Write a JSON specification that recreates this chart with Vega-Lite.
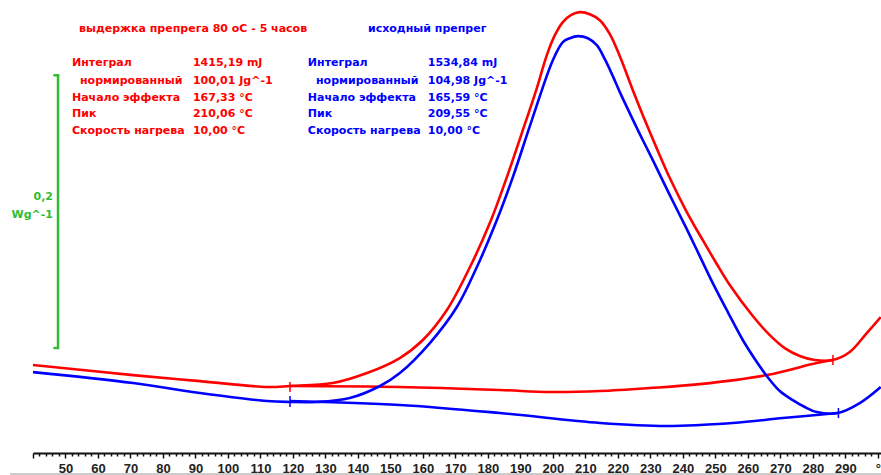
{
  "$schema": "https://vega.github.io/schema/vega-lite/v6.json",
  "width": 848,
  "height": 453,
  "autosize": {"type": "none"},
  "padding": {"left": 33, "top": 0, "right": 0, "bottom": 22},
  "background": "white",
  "config": {"view": {"stroke": null}, "axis": {"grid": false}},
  "datasets": {
    "curves": [
      {"s":"annealed","k":"curve","t":40.0,"v":0.0645},
      {"s":"annealed","k":"curve","t":70.8,"v":0.0571},
      {"s":"annealed","k":"curve","t":91.4,"v":0.0527},
      {"s":"annealed","k":"curve","t":112.0,"v":0.0484},
      {"s":"annealed","k":"curve","t":119.1,"v":0.0491},
      {"s":"annealed","k":"curve","t":132.3,"v":0.0513},
      {"s":"annealed","k":"curve","t":142.8,"v":0.0586},
      {"s":"annealed","k":"curve","t":152.9,"v":0.0696},
      {"s":"annealed","k":"curve","t":160.0,"v":0.0828},
      {"s":"annealed","k":"curve","t":167.4,"v":0.1048},
      {"s":"annealed","k":"curve","t":174.5,"v":0.1363},
      {"s":"annealed","k":"curve","t":180.6,"v":0.1685},
      {"s":"annealed","k":"curve","t":185.85,"v":0.2022},
      {"s":"annealed","k":"curve","t":191.38,"v":0.2410},
      {"s":"annealed","k":"curve","t":195.08,"v":0.2674},
      {"s":"annealed","k":"curve","t":198.15,"v":0.2916},
      {"s":"annealed","k":"curve","t":200.62,"v":0.3062},
      {"s":"annealed","k":"curve","t":203.08,"v":0.3158},
      {"s":"annealed","k":"curve","t":205.54,"v":0.3209},
      {"s":"annealed","k":"curve","t":208.31,"v":0.3231},
      {"s":"annealed","k":"curve","t":211.38,"v":0.3216},
      {"s":"annealed","k":"curve","t":214.46,"v":0.3172},
      {"s":"annealed","k":"curve","t":217.54,"v":0.3070},
      {"s":"annealed","k":"curve","t":220.62,"v":0.2908},
      {"s":"annealed","k":"curve","t":224.62,"v":0.2659},
      {"s":"annealed","k":"curve","t":227.69,"v":0.2476},
      {"s":"annealed","k":"curve","t":231.69,"v":0.2249},
      {"s":"annealed","k":"curve","t":236.0,"v":0.2015},
      {"s":"annealed","k":"curve","t":241.23,"v":0.1766},
      {"s":"annealed","k":"curve","t":246.15,"v":0.1560},
      {"s":"annealed","k":"curve","t":250.46,"v":0.1385},
      {"s":"annealed","k":"curve","t":254.46,"v":0.1231},
      {"s":"annealed","k":"curve","t":261.54,"v":0.1004},
      {"s":"annealed","k":"curve","t":266.77,"v":0.0864},
      {"s":"annealed","k":"curve","t":271.38,"v":0.0769},
      {"s":"annealed","k":"curve","t":276.0,"v":0.0711},
      {"s":"annealed","k":"curve","t":280.62,"v":0.0681},
      {"s":"annealed","k":"curve","t":286.15,"v":0.0681},
      {"s":"annealed","k":"curve","t":291.38,"v":0.0740},
      {"s":"annealed","k":"curve","t":296.62,"v":0.0879},
      {"s":"annealed","k":"curve","t":300.92,"v":0.0996},
      {"s":"annealed","k":"base","t":119.1,"v":0.0491},
      {"s":"annealed","k":"base","t":152.9,"v":0.0484},
      {"s":"annealed","k":"base","t":183.7,"v":0.0462},
      {"s":"annealed","k":"base","t":199.1,"v":0.0447},
      {"s":"annealed","k":"base","t":214.5,"v":0.0454},
      {"s":"annealed","k":"base","t":229.8,"v":0.0476},
      {"s":"annealed","k":"base","t":245.2,"v":0.0505},
      {"s":"annealed","k":"base","t":265.8,"v":0.0571},
      {"s":"annealed","k":"base","t":281.2,"v":0.0659},
      {"s":"annealed","k":"base","t":286.2,"v":0.0681},
      {"s":"initial","k":"curve","t":40.0,"v":0.0593},
      {"s":"initial","k":"curve","t":70.8,"v":0.0513},
      {"s":"initial","k":"curve","t":91.4,"v":0.0440},
      {"s":"initial","k":"curve","t":112.0,"v":0.0381},
      {"s":"initial","k":"curve","t":119.1,"v":0.0374},
      {"s":"initial","k":"curve","t":127.4,"v":0.0374},
      {"s":"initial","k":"curve","t":137.5,"v":0.0403},
      {"s":"initial","k":"curve","t":146.8,"v":0.0491},
      {"s":"initial","k":"curve","t":152.92,"v":0.0586},
      {"s":"initial","k":"curve","t":162.15,"v":0.0806},
      {"s":"initial","k":"curve","t":170.46,"v":0.1070},
      {"s":"initial","k":"curve","t":176.62,"v":0.1363},
      {"s":"initial","k":"curve","t":182.77,"v":0.1707},
      {"s":"initial","k":"curve","t":187.69,"v":0.2022},
      {"s":"initial","k":"curve","t":193.54,"v":0.2440},
      {"s":"initial","k":"curve","t":200.0,"v":0.2879},
      {"s":"initial","k":"curve","t":203.08,"v":0.3011},
      {"s":"initial","k":"curve","t":205.23,"v":0.3040},
      {"s":"initial","k":"curve","t":207.69,"v":0.3055},
      {"s":"initial","k":"curve","t":210.77,"v":0.3040},
      {"s":"initial","k":"curve","t":213.54,"v":0.2989},
      {"s":"initial","k":"curve","t":216.0,"v":0.2886},
      {"s":"initial","k":"curve","t":218.46,"v":0.2762},
      {"s":"initial","k":"curve","t":220.62,"v":0.2645},
      {"s":"initial","k":"curve","t":223.08,"v":0.2520},
      {"s":"initial","k":"curve","t":226.77,"v":0.2337},
      {"s":"initial","k":"curve","t":230.77,"v":0.2147},
      {"s":"initial","k":"curve","t":236.0,"v":0.1890},
      {"s":"initial","k":"curve","t":241.23,"v":0.1641},
      {"s":"initial","k":"curve","t":245.23,"v":0.1443},
      {"s":"initial","k":"curve","t":249.23,"v":0.1245},
      {"s":"initial","k":"curve","t":253.85,"v":0.1033},
      {"s":"initial","k":"curve","t":258.46,"v":0.0828},
      {"s":"initial","k":"curve","t":262.15,"v":0.0689},
      {"s":"initial","k":"curve","t":265.85,"v":0.0564},
      {"s":"initial","k":"curve","t":269.85,"v":0.0454},
      {"s":"initial","k":"curve","t":273.85,"v":0.0388},
      {"s":"initial","k":"curve","t":277.54,"v":0.0337},
      {"s":"initial","k":"curve","t":281.23,"v":0.0300},
      {"s":"initial","k":"curve","t":287.69,"v":0.0293},
      {"s":"initial","k":"curve","t":294.46,"v":0.0366},
      {"s":"initial","k":"curve","t":300.92,"v":0.0484},
      {"s":"initial","k":"base","t":119.1,"v":0.0381},
      {"s":"initial","k":"base","t":152.9,"v":0.0352},
      {"s":"initial","k":"base","t":183.7,"v":0.0293},
      {"s":"initial","k":"base","t":214.5,"v":0.0220},
      {"s":"initial","k":"base","t":235.1,"v":0.0198},
      {"s":"initial","k":"base","t":255.4,"v":0.0220},
      {"s":"initial","k":"base","t":270.8,"v":0.0256},
      {"s":"initial","k":"base","t":287.7,"v":0.0293}
    ],
    "limits": [
      {"s":"annealed","t":119.1,"t2":119.1,"v":0.0520,"v2":0.0447},
      {"s":"annealed","t":286.2,"t2":286.2,"v":0.0718,"v2":0.0645},
      {"s":"initial","t":119.1,"t2":119.1,"v":0.0418,"v2":0.0337},
      {"s":"initial","t":287.9,"t2":287.9,"v":0.0330,"v2":0.0256}
    ],
    "scalebar": [
      {"s":"scale","t":47.7,"t2":47.7,"v":0.2769,"v2":0.0769},
      {"s":"scale","t":46.6,"t2":47.7,"v":0.2769,"v2":0.2769},
      {"s":"scale","t":46.6,"t2":47.7,"v":0.0769,"v2":0.0769}
    ],
    "frame": [
      {"s":"frame","t":32.9,"t2":301.0,"v":-0.0154,"v2":-0.0154}
    ],
    "labels": [
      {"s":"annealed","t":54.15,"v":0.3106,"txt":"выдержка препрега 80 оС - 5 часов"},
      {"s":"initial","t":143.1,"v":0.3106,"txt":"исходный препрег"},
      {"s":"annealed","t":52.0,"v":0.2857,"txt":"Интеграл"},
      {"s":"annealed","t":54.46,"v":0.2725,"txt":"нормированный"},
      {"s":"annealed","t":52.0,"v":0.2601,"txt":"Начало эффекта"},
      {"s":"annealed","t":52.0,"v":0.2484,"txt":"Пик"},
      {"s":"annealed","t":52.0,"v":0.2359,"txt":"Скорость нагрева"},
      {"s":"annealed","t":89.23,"v":0.2857,"txt":"1415,19 mJ"},
      {"s":"annealed","t":89.23,"v":0.2725,"txt":"100,01 Jg^-1"},
      {"s":"annealed","t":89.23,"v":0.2601,"txt":"167,33 °C"},
      {"s":"annealed","t":89.23,"v":0.2484,"txt":"210,06 °C"},
      {"s":"annealed","t":89.23,"v":0.2359,"txt":"10,00 °C"},
      {"s":"initial","t":124.6,"v":0.2857,"txt":"Интеграл"},
      {"s":"initial","t":127.1,"v":0.2725,"txt":"нормированный"},
      {"s":"initial","t":124.6,"v":0.2601,"txt":"Начало эффекта"},
      {"s":"initial","t":124.6,"v":0.2484,"txt":"Пик"},
      {"s":"initial","t":124.6,"v":0.2359,"txt":"Скорость нагрева"},
      {"s":"initial","t":161.5,"v":0.2857,"txt":"1534,84 mJ"},
      {"s":"initial","t":161.5,"v":0.2725,"txt":"104,98 Jg^-1"},
      {"s":"initial","t":161.5,"v":0.2601,"txt":"165,59 °C"},
      {"s":"initial","t":161.5,"v":0.2484,"txt":"209,55 °C"},
      {"s":"initial","t":161.5,"v":0.2359,"txt":"10,00 °C"}
    ],
    "scalelabels": [
      {"s":"scale","t":46.15,"v":0.1875,"txt":"0,2"},
      {"s":"scale","t":46.15,"v":0.1744,"txt":"Wg^-1"}
    ]
  },
  "encoding": {
    "x": {
      "field": "t", "type": "quantitative",
      "scale": {"domain": [40, 301], "nice": false, "zero": false},
      "axis": {
        "title": null,
        "orient": "bottom",
        "values": [40,42,44,46,48,50,52,54,56,58,60,62,64,66,68,70,72,74,76,78,80,82,84,86,88,90,92,94,96,98,100,102,104,106,108,110,112,114,116,118,120,122,124,126,128,130,132,134,136,138,140,142,144,146,148,150,152,154,156,158,160,162,164,166,168,170,172,174,176,178,180,182,184,186,188,190,192,194,196,198,200,202,204,206,208,210,212,214,216,218,220,222,224,226,228,230,232,234,236,238,240,242,244,246,248,250,252,254,256,258,260,262,264,266,268,270,272,274,276,278,280,282,284,286,288,290,292,294,296,298,300],
        "labelExpr": "datum.value == 300 ? '°' : ((datum.value % 10 == 0 && datum.value >= 50) ? datum.label : '')",
        "labelFont": "Liberation Sans",
        "labelFontWeight": "bold",
        "labelFontSize": 13,
        "labelColor": "#222222",
        "labelPadding": 4,
        "labelOverlap": false,
        "labelFlush": false,
        "domainColor": "#111111",
        "domainWidth": 2,
        "tickColor": "#111111",
        "tickWidth": 1.5,
        "tickSize": {"condition": {"test": "datum.value % 10 == 0", "value": 5}, "value": 3}
      }
    },
    "y": {
      "field": "v", "type": "quantitative",
      "scale": {"domain": [0, 0.332], "nice": false, "zero": false},
      "axis": null
    },
    "color": {
      "field": "s", "type": "nominal",
      "scale": {"domain": ["annealed", "initial", "scale", "frame"], "range": ["#ff0000", "#0000ff", "#33bb33", "#cccccc"]},
      "legend": null
    }
  },
  "layer": [
    {
      "data": {"name": "frame"},
      "mark": {"type": "rule", "strokeWidth": 2},
      "encoding": {"x2": {"field": "t2"}, "y2": {"field": "v2"}}
    },
    {
      "data": {"name": "curves"},
      "mark": {"type": "line", "strokeWidth": 2.6, "interpolate": "catmull-rom"},
      "encoding": {"detail": {"field": "k"}}
    },
    {
      "data": {"name": "limits"},
      "mark": {"type": "rule", "strokeWidth": 1.5},
      "encoding": {"x2": {"field": "t2"}, "y2": {"field": "v2"}}
    },
    {
      "data": {"name": "scalebar"},
      "mark": {"type": "rule", "strokeWidth": 2.5, "strokeCap": "round"},
      "encoding": {"x2": {"field": "t2"}, "y2": {"field": "v2"}}
    },
    {
      "data": {"name": "labels"},
      "mark": {"type": "text", "align": "left", "baseline": "middle", "font": "DejaVu Sans", "fontWeight": "bold", "fontSize": 11},
      "encoding": {"text": {"field": "txt"}}
    },
    {
      "data": {"name": "scalelabels"},
      "mark": {"type": "text", "align": "right", "baseline": "middle", "font": "DejaVu Sans", "fontWeight": "bold", "fontSize": 11},
      "encoding": {"text": {"field": "txt"}}
    }
  ]
}
